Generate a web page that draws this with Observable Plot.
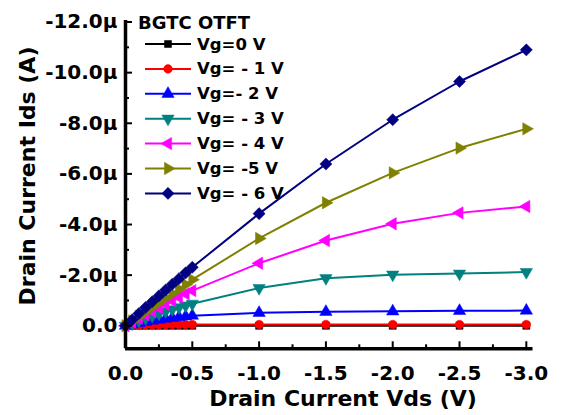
<!DOCTYPE html>
<html>
<head>
<meta charset="utf-8">
<script src="https://cdn.jsdelivr.net/npm/d3@7"></script>
<script src="https://cdn.jsdelivr.net/npm/@observablehq/plot@0.6"></script>
<style>
  html, body { margin: 0; padding: 0; background: #fff; }
  #chart { position: relative; width: 564px; height: 415px; }
</style>
</head>
<body>
<div id="chart"></div>
<script>
// ---- data (Ids in µA, Vds in V) ----
const vds = [0, -0.05, -0.1, -0.15, -0.2, -0.25, -0.3, -0.35, -0.4, -0.45, -0.5, -1.0, -1.5, -2.0, -2.5, -3.0];
const seriesNames = ["Vg=0 V", "Vg= - 1 V", "Vg=- 2 V", "Vg= - 3 V", "Vg= - 4 V", "Vg= -5 V", "Vg= - 6 V"];
const seriesColors = ["#000000", "#ff0000", "#0000ff", "#008080", "#ff00ff", "#808000", "#000080"];
const ids0 = [0, 0, 0, 0, 0, 0, 0, 0, 0, 0, 0, 0, 0, 0, 0, 0];
const ids1 = [0, -0.01, -0.02, -0.03, -0.03, -0.04, -0.04, -0.05, -0.05, -0.05, -0.05, -0.05, -0.05, -0.05, -0.05, -0.05];
const ids2 = [0, -0.05, -0.10, -0.15, -0.20, -0.24, -0.28, -0.31, -0.34, -0.37, -0.40, -0.51, -0.55, -0.57, -0.59, -0.60];
const ids3 = [0, -0.10, -0.20, -0.30, -0.39, -0.48, -0.57, -0.65, -0.73, -0.80, -0.87, -1.49, -1.88, -2.02, -2.06, -2.12];
const ids4 = [0, -0.15, -0.29, -0.43, -0.57, -0.71, -0.85, -0.99, -1.13, -1.26, -1.39, -2.47, -3.37, -4.03, -4.46, -4.71];
const ids5 = [0, -0.19, -0.37, -0.55, -0.73, -0.91, -1.09, -1.27, -1.45, -1.63, -1.82, -3.45, -4.86, -6.04, -7.02, -7.78];
const ids6 = [0, -0.24, -0.48, -0.72, -0.95, -1.18, -1.41, -1.64, -1.86, -2.09, -2.31, -4.43, -6.39, -8.14, -9.65, -10.90];
const allIds = [ids0, ids1, ids2, ids3, ids4, ids5, ids6];

const xMajor = [0, -0.5, -1.0, -1.5, -2.0, -2.5, -3.0];
const xMinor = [-0.25, -0.75, -1.25, -1.75, -2.25, -2.75];
const yMajor = [0, -2, -4, -6, -8, -10, -12];
const yMinor = [-1, -3, -5, -7, -9, -11];
const xDomain = [0, -3.05];
const yDomain = [0.91, -12.06];

// ---- symbols ----
function tri(angles) {
  return {
    draw(ctx, size) {
      const r = Math.sqrt(size / 1.299);
      angles.forEach((a, i) => {
        const t = a * Math.PI / 180;
        const px = r * Math.cos(t), py = r * Math.sin(t);
        if (i === 0) ctx.moveTo(px, py); else ctx.lineTo(px, py);
      });
      ctx.closePath();
    }
  };
}
const triUp = tri([-90, 30, 150]);
const triDown = tri([90, 210, 330]);
const triLeft = tri([180, 300, 60]);
const triRight = tri([0, 120, 240]);
const diamondSq = {
  draw(ctx, size) {
    const r = Math.sqrt(size / 2) * 1.05;
    ctx.moveTo(0, -r); ctx.lineTo(r, 0); ctx.lineTo(0, r); ctx.lineTo(-r, 0); ctx.closePath();
  }
};
const seriesSymbols = [d3.symbolSquare, d3.symbolCircle, triUp, triDown, triLeft, triRight, diamondSq];
const symR = [4, 4.3, 4.6, 4.6, 4.6, 4.6, 4.6];

const W = 564, H = 415;
const mL = 125, mR = 31.5, mT = 20, mB = 66.7;
const innerW = W - mL - mR;
const innerH = H - mT - mB;

const marks = [];
allIds.forEach((ids, i) => {
  const rows = vds.map((v, j) => ({vds: v, ids: ids[j]}));
  marks.push(Plot.line(rows, {x: "vds", y: "ids", stroke: seriesColors[i], strokeWidth: 2}));
  marks.push(Plot.dot(rows, {x: "vds", y: "ids", symbol: seriesSymbols[i], r: symR[i], fill: seriesColors[i], stroke: seriesColors[i], strokeWidth: 0.5}));
});

const plot = Plot.plot({
  width: W, height: H,
  marginLeft: mL, marginRight: mR, marginTop: mT, marginBottom: mB,
  style: {fontFamily: "'DejaVu Sans', sans-serif", fontWeight: "bold", fontSize: "20px", background: "#fff", color: "#000"},
  x: {domain: xDomain, label: null},
  y: {domain: yDomain, label: null},
  marks: [
    ...marks,
    Plot.ruleX([xDomain[0]], {stroke: "#000", strokeWidth: 3.5}),
    Plot.ruleY([yDomain[0]], {stroke: "#000", strokeWidth: 3.5}),
    Plot.tickY(yMajor, {y: d => d, stroke: "#000", strokeWidth: 2, insetLeft: 1, insetRight: innerW - 7}),
    Plot.tickY(yMinor, {y: d => d, stroke: "#000", strokeWidth: 2, insetLeft: 1, insetRight: innerW - 4}),
    Plot.tickX(xMajor, {x: d => d, stroke: "#000", strokeWidth: 2, insetBottom: 1, insetTop: innerH - 7}),
    Plot.tickX(xMinor, {x: d => d, stroke: "#000", strokeWidth: 2, insetBottom: 1, insetTop: innerH - 4}),
    Plot.axisY({ticks: yMajor, tickSize: 0, tickPadding: 8, tickFormat: d => d === 0 ? "0.0" : d.toFixed(1) + "\u03bc", fontSize: 20, label: null}),
    Plot.axisX({ticks: xMajor, tickSize: 0, tickPadding: 17, tickFormat: d => d === 0 ? "0.0" : d.toFixed(1), fontSize: 20, label: null})
  ]
});
document.getElementById("chart").appendChild(plot);

// ---- axis titles & legend ----
const svg = d3.select(plot);
const font = "'DejaVu Sans', sans-serif";
svg.append("text")
  .attr("transform", "translate(27,176) rotate(-90)")
  .attr("text-anchor", "middle").attr("dominant-baseline", "central")
  .style("font", `bold 22px ${font}`).text("Drain Current Ids (A)");
svg.append("text")
  .attr("x", 343).attr("y", 398)
  .attr("text-anchor", "middle").attr("dominant-baseline", "central")
  .style("font", `bold 22px ${font}`).text("Drain Current Vds (V)");

const lg = svg.append("g").attr("text-anchor", "start");
lg.append("text").attr("x", 138).attr("y", 22).attr("dominant-baseline", "central")
  .attr("text-anchor", "start")
  .style("font", `bold 18px ${font}`).text("BGTC OTFT");
seriesNames.forEach((name, i) => {
  const y = 44 + i * 24.9;
  lg.append("line").attr("x1", 145).attr("x2", 191).attr("y1", y).attr("y2", y)
    .attr("stroke", seriesColors[i]).attr("stroke-width", 2);
  lg.append("path").attr("transform", `translate(168,${y})`)
    .attr("d", d3.symbol(seriesSymbols[i], Math.PI * symR[i] * symR[i])())
    .attr("fill", seriesColors[i]).attr("stroke", seriesColors[i]).attr("stroke-width", 0.5);
  lg.append("text").attr("x", 197).attr("y", y).attr("dominant-baseline", "central")
    .attr("text-anchor", "start")
    .style("font", `bold 16.5px ${font}`).text(name);
});
</script>
</body>
</html>
